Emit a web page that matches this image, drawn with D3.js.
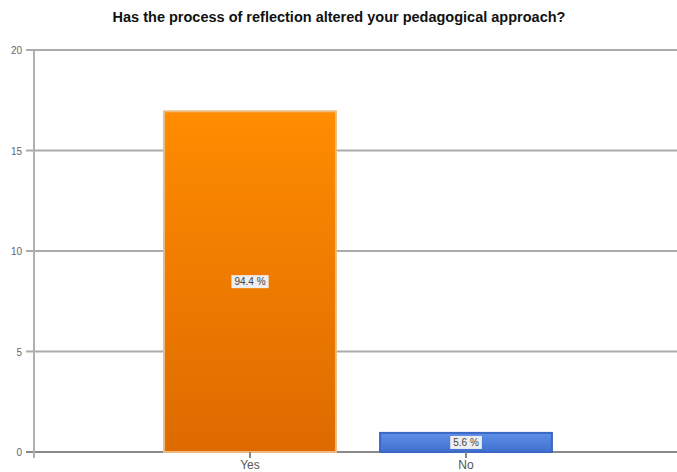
<!DOCTYPE html>
<html><head><meta charset="utf-8">
<script src="https://cdn.jsdelivr.net/npm/d3@7"></script>
<style>body{margin:0;background:#fff}svg{display:block}</style>
</head><body>
<script>
const title = "Has the process of reflection altered your pedagogical approach?";
const categories = ["Yes", "No"];
const values = [17, 1];
const percentLabels = ["94.4 %", "5.6 %"];
const yTicks = [0, 5, 10, 15, 20];

const W = 677, H = 472;
const svg = d3.select("body").append("svg").attr("width", W).attr("height", H);
const defs = svg.append("defs");
const gO = defs.append("linearGradient").attr("id","gO").attr("x1",0).attr("y1",0).attr("x2",0).attr("y2",1);
gO.append("stop").attr("offset","0%").attr("stop-color","#ff8c00");
gO.append("stop").attr("offset","100%").attr("stop-color","#de6a00");
const gB = defs.append("linearGradient").attr("id","gB").attr("x1",0).attr("y1",0).attr("x2",0).attr("y2",1);
gB.append("stop").attr("offset","0%").attr("stop-color","#5f90e6");
gB.append("stop").attr("offset","100%").attr("stop-color","#3f70d0");

const y = d3.scaleLinear().domain([0, 20]).range([452, 50]);
const x = d3.scalePoint().domain(categories).range([34, 682]).padding(1);
const bw = x.step() * 0.805;

svg.append("text").attr("x", 339).attr("y", 22).attr("text-anchor","middle")
  .attr("font-family","Liberation Sans, Arial, sans-serif").attr("font-weight","bold")
  .attr("font-size", 14.5).attr("fill","#111").text(title);

// grid
svg.append("g").selectAll("line").data(yTicks).join("line")
  .attr("x1", 26).attr("x2", W).attr("y1", d => y(d)).attr("y2", d => y(d))
  .attr("stroke", d => d === 0 ? "#8a8a8a" : "#ababab").attr("stroke-width", 2);
// y axis line
svg.append("line").attr("x1", 34).attr("x2", 34).attr("y1", 50).attr("y2", 458)
  .attr("stroke", "#b0b0b0").attr("stroke-width", 2);
svg.append("g").selectAll("text").data(yTicks).join("text")
  .attr("x", 22).attr("y", d => y(d) + 4).attr("text-anchor","end")
  .attr("font-family","Liberation Sans, Arial, sans-serif").attr("font-size", 10)
  .attr("fill","#666").text(d => d);

const colors = ["url(#gO)", "url(#gB)"];
const borders = ["#eeb97f", "#3a68c4"];
const bars = svg.append("g");
categories.forEach((c, i) => {
  bars.append("rect").attr("x", x(c) - bw/2 + 1).attr("y", y(values[i]) + 1)
    .attr("width", bw - 2).attr("height", y(0) - y(values[i]) - 1)
    .attr("fill", colors[i]).attr("stroke", borders[i]).attr("stroke-width", 2);
});
// x ticks and labels
svg.append("g").selectAll("line").data(categories).join("line")
  .attr("x1", d => x(d)).attr("x2", d => x(d)).attr("y1", 452).attr("y2", 458)
  .attr("stroke","#888").attr("stroke-width", 2);
svg.append("g").selectAll("text").data(categories).join("text")
  .attr("x", d => x(d)).attr("y", 469).attr("text-anchor","middle")
  .attr("font-family","Liberation Sans, Arial, sans-serif").attr("font-size", 12)
  .attr("fill","#555").text(d => d);

// percentage labels
const lab = svg.append("g");
categories.forEach((c, i) => {
  const cy = (y(values[i]) + y(0)) / 2;
  const t = lab.append("text").attr("x", x(c)).attr("y", cy + 4).attr("text-anchor","middle")
    .attr("font-family","Liberation Sans, Arial, sans-serif").attr("font-size", 10)
    .attr("fill","#444").text(percentLabels[i]);
  const bb = t.node().getBBox();
  lab.insert("rect", "text").attr("x", bb.x - 3).attr("y", bb.y - 1)
    .attr("width", bb.width + 6).attr("height", bb.height + 2).attr("fill","#eeeeee");
});
</script>
</body></html>
